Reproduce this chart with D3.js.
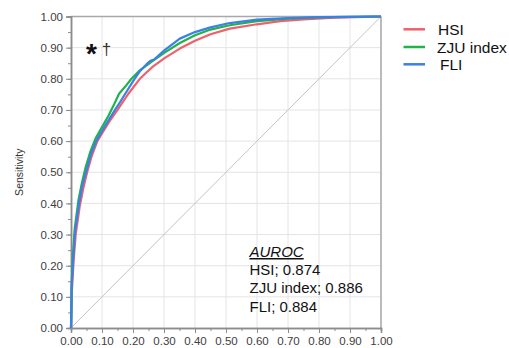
<!DOCTYPE html>
<html><head><meta charset="utf-8">
<script src="https://cdn.jsdelivr.net/npm/d3@7"></script>
<style>body{margin:0;background:#fff}svg{display:block;font-family:"Liberation Sans",Arial,sans-serif}</style>
</head><body><svg id="c" width="509" height="348"></svg>
<script>
const seriesNames = ["HSI", "ZJU index", "FLI"];
const seriesColors = ["#f0606c", "#22b24c", "#3a80e6"];
const hsiFpr = [0,0.001,0.003,0.008,0.015,0.028,0.04,0.052,0.067,0.085,0.105,0.125,0.15,0.185,0.222,0.245,0.265,0.303,0.351,0.4,0.45,0.512,0.6,0.675,0.75,0.85,0.95,1];
const hsiTpr = [0,0.04,0.12,0.21,0.30,0.39,0.45,0.50,0.553,0.60,0.633,0.665,0.70,0.752,0.80,0.822,0.840,0.867,0.897,0.922,0.943,0.961,0.975,0.985,0.991,0.996,0.999,1];
const zjuFpr = [0,0.001,0.002,0.006,0.012,0.024,0.035,0.047,0.062,0.08,0.1,0.12,0.14,0.155,0.175,0.195,0.222,0.265,0.303,0.351,0.4,0.45,0.512,0.6,0.7,0.8,0.9,1];
const zjuTpr = [0,0.06,0.14,0.23,0.32,0.41,0.465,0.515,0.565,0.61,0.645,0.68,0.72,0.752,0.775,0.80,0.827,0.858,0.885,0.915,0.940,0.958,0.972,0.985,0.993,0.997,0.999,1];
const fliFpr = [0,0.001,0.002,0.007,0.013,0.026,0.037,0.05,0.065,0.083,0.1,0.12,0.14,0.16,0.18,0.204,0.222,0.244,0.255,0.27,0.285,0.303,0.351,0.4,0.45,0.512,0.6,0.7,0.8,0.9,1];
const fliTpr = [0,0.05,0.13,0.22,0.31,0.40,0.46,0.505,0.56,0.603,0.632,0.665,0.697,0.728,0.76,0.798,0.824,0.847,0.857,0.863,0.877,0.893,0.929,0.950,0.965,0.979,0.99,0.995,0.998,0.999,1];
const tickValues = [0,0.1,0.2,0.3,0.4,0.5,0.6,0.7,0.8,0.9,1.0];
const minorTicks = d3.range(0, 1.0001, 0.05);
const aurocTitle = "AUROC";
const aurocLines = ["HSI; 0.874", "ZJU index; 0.886", "FLI; 0.884"];
const yLabel = "Sensitivity";

const svg = d3.select("#c");
const x = d3.scaleLinear().domain([0,1]).range([71, 381]);
const y = d3.scaleLinear().domain([0,1]).range([328, 16.5]);
const fmt = d3.format(".2f");

// grid
const g = svg.append("g");
g.selectAll(".gx").data(tickValues.slice(1)).join("line")
  .attr("x1", d=>x(d)).attr("x2", d=>x(d)).attr("y1", y(0)).attr("y2", y(1))
  .attr("stroke", "#e4e4e4").attr("stroke-width", 1);
g.selectAll(".gy").data(tickValues.slice(1)).join("line")
  .attr("y1", d=>y(d)).attr("y2", d=>y(d)).attr("x1", x(0)).attr("x2", x(1))
  .attr("stroke", "#e4e4e4").attr("stroke-width", 1);

// diagonal
svg.append("line").attr("x1", x(0)).attr("y1", y(0)).attr("x2", x(1)).attr("y2", y(1))
  .attr("stroke", "#c4c4c4").attr("stroke-width", 1);

// frame top/right
svg.append("line").attr("x1", x(0)).attr("x2", x(1)).attr("y1", y(1)).attr("y2", y(1)).attr("stroke", "#a8a8a8").attr("stroke-width", 1.5);
svg.append("line").attr("x1", x(1)).attr("x2", x(1)).attr("y1", y(0)).attr("y2", y(1)).attr("stroke", "#a8a8a8").attr("stroke-width", 1.5);

// axes
const xAxis = svg.append("g").attr("transform", `translate(0,${y(0)})`)
  .call(d3.axisBottom(x).tickValues(tickValues).tickFormat(fmt).tickSize(5).tickPadding(4));
const xMinor = svg.append("g").attr("transform", `translate(0,${y(0)})`)
  .call(d3.axisBottom(x).tickValues(minorTicks).tickFormat("").tickSize(3));
const yAxis = svg.append("g").attr("transform", `translate(${x(0)},0)`)
  .call(d3.axisLeft(y).tickValues(tickValues).tickFormat(fmt).tickSize(5).tickPadding(3));
const yMinor = svg.append("g").attr("transform", `translate(${x(0)},0)`)
  .call(d3.axisLeft(y).tickValues(minorTicks).tickFormat("").tickSize(3));
[xAxis, xMinor, yAxis, yMinor].forEach(a => {
  a.select(".domain").attr("stroke", "#8c8c8c").attr("stroke-width", 1.5);
  a.selectAll(".tick line").attr("stroke", "#8c8c8c");
  a.selectAll("text").attr("fill", "#404040").style("font-size", "11.5px");
});

// curves
const data = [
  hsiFpr.map((f,i)=>[f, hsiTpr[i]]),
  zjuFpr.map((f,i)=>[f, zjuTpr[i]]),
  fliFpr.map((f,i)=>[f, fliTpr[i]])
];
const line = d3.line().x(d=>x(d[0])).y(d=>y(d[1]));
data.forEach((d,i)=>{
  svg.append("path").datum(d).attr("d", line).attr("fill","none")
    .attr("stroke", seriesColors[i]).attr("stroke-width", 2.2).attr("stroke-linejoin","round");
});

// y label
svg.append("text").attr("transform", `translate(23,${(y(0)+y(1))/2}) rotate(-90)`)
  .attr("text-anchor","middle").attr("fill","#333").style("font-size","10.5px").text(yLabel);

// symbols
svg.append("text").attr("x", 91.5).attr("y", 63).attr("text-anchor","middle")
  .style("font-size","28px").style("font-weight","bold").attr("fill","#111").text("*");
svg.append("text").attr("x", 106.5).attr("y", 55).attr("text-anchor","middle")
  .style("font-size","17px").attr("fill","#333").text("†");

// legend
const leg = svg.append("g");
const legY = [29.3, 47, 64.3];
const legTx = [438, 437, 440];
seriesNames.forEach((n,i)=>{
  leg.append("line").attr("x1",403.5).attr("x2",425).attr("y1",legY[i]).attr("y2",legY[i])
    .attr("stroke",seriesColors[i]).attr("stroke-width",2.5);
  leg.append("text").attr("x",legTx[i]).attr("y",legY[i]+5.5).attr("fill","#111")
    .style("font-size","15.5px").text(n);
});

// AUROC text
svg.append("text").attr("x",249.5).attr("y",257).attr("fill","#111")
  .style("font-size","15px").style("font-style","italic").style("text-decoration","underline").text(aurocTitle);
aurocLines.forEach((t,i)=>{
  svg.append("text").attr("x",249.5).attr("y",275+i*18.3).attr("fill","#111")
    .style("font-size","15px").text(t);
});
</script></body></html>
